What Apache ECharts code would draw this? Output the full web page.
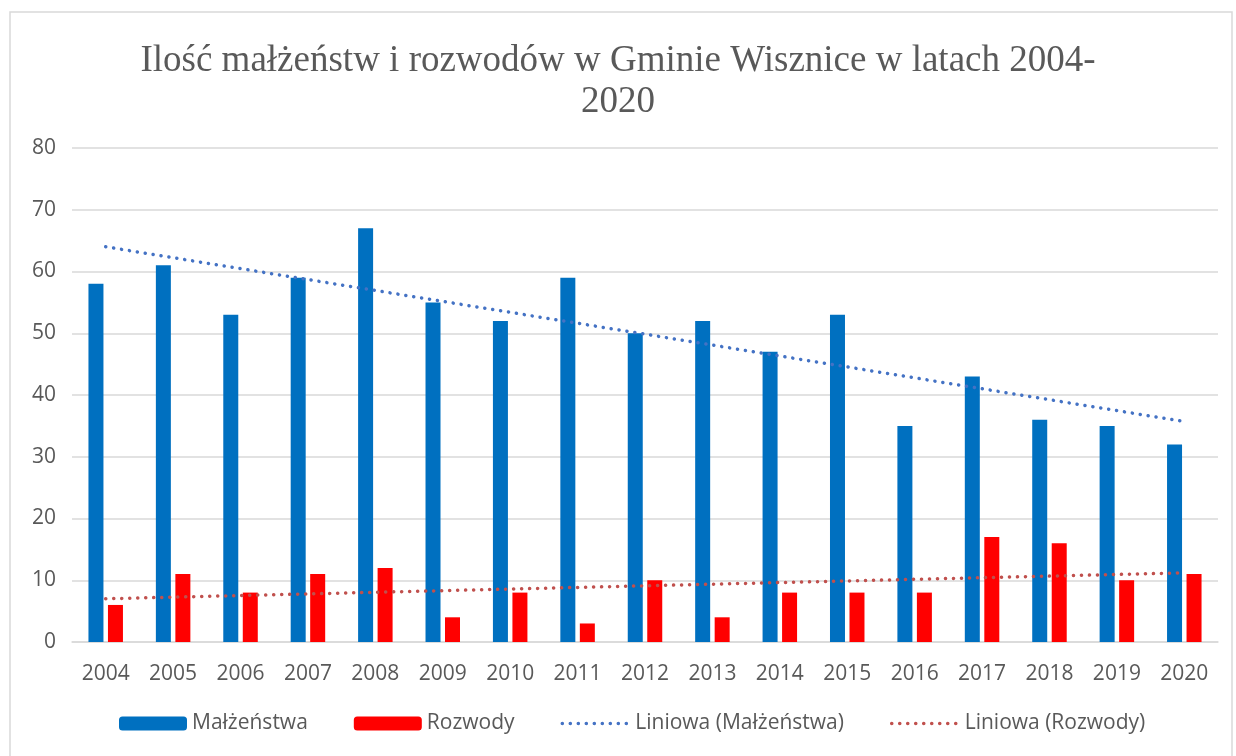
<!DOCTYPE html>
<html>
<head>
<meta charset="utf-8">
<script src="https://cdn.jsdelivr.net/npm/echarts@6/dist/echarts.min.js"></script>
<style>
html,body{margin:0;padding:0;background:#fff;}
#chart{width:1236px;height:756px;}
</style>
</head>
<body>
<div id="chart"></div>
<script>
// dane
var lata = ['2004','2005','2006','2007','2008','2009','2010','2011','2012','2013','2014','2015','2016','2017','2018','2019','2020'];
var malzenstwa = [58, 61, 53, 59, 67, 55, 52, 59, 50, 52, 47, 53, 35, 43, 36, 35, 32];
var rozwody = [6, 11, 8, 11, 12, 4, 8, 3, 10, 4, 8, 8, 8, 17, 16, 10, 11];
// linie trendu - poczatek i koniec
var trendMalzStart = 64.0, trendMalzEnd = 35.7;
var trendRozwStart = 7.0, trendRozwEnd = 11.2;
var osY = [0, 80, 10];

function trend(a, b) {
    var d = lata.map(function () { return null; });
    d[0] = a;
    d[d.length - 1] = b;
    return d;
}

var txt = '#595959';
var font = '"Open Sans", "Noto Sans", sans-serif';
var kropki = [0.1, 7.9];

var chart = echarts.init(document.getElementById('chart'));
var option = {
    backgroundColor: '#fff',
    animation: false,
    textStyle: { fontFamily: font },
    title: {
        text: 'Ilość małżeństw i rozwodów w Gminie Wisznice w latach 2004-\n2020',
        left: 'center',
        top: 36,
        textStyle: {
            fontFamily: '"Liberation Serif", "DejaVu Serif", serif',
            fontWeight: 'normal',
            fontSize: 37,
            lineHeight: 41,
            color: txt,
            align: 'center'
        }
    },
    graphic: [{
        type: 'rect',
        shape: { x: 10, y: 12, width: 1222, height: 760 },
        style: { fill: 'none', stroke: '#d9d9d9', lineWidth: 1.5 },
        silent: true,
        z: -10
    }],
    grid: { left: 72, right: 18, top: 148, bottom: 114 },
    legend: {
        bottom: 17,
        left: 114,
        itemWidth: 68,
        itemHeight: 14,
        itemGap: 46,
        textStyle: { color: txt, fontSize: 21, fontFamily: font },
        data: [
            'Małżeństwa',
            'Rozwody',
            {
                name: 'Liniowa (Małżeństwa)',
                itemStyle: { opacity: 0 },
                lineStyle: { width: 3.5, type: kropki, cap: 'round', color: '#4472C4' }
            },
            {
                name: 'Liniowa (Rozwody)',
                itemStyle: { opacity: 0 },
                lineStyle: { width: 3.5, type: kropki, cap: 'round', color: '#C0504D' }
            }
        ]
    },
    xAxis: {
        type: 'category',
        data: lata,
        axisTick: { show: false },
        axisLine: { lineStyle: { color: '#d9d9d9', width: 1.5 } },
        axisLabel: { color: txt, fontSize: 21, margin: 22 }
    },
    yAxis: {
        type: 'value',
        min: osY[0],
        max: osY[1],
        interval: osY[2],
        axisLine: { show: false },
        axisTick: { show: false },
        splitLine: { lineStyle: { color: '#d9d9d9', width: 1.5 } },
        axisLabel: { color: txt, fontSize: 21, margin: 16 }
    },
    series: [{
        name: 'Małżeństwa',
        type: 'bar',
        data: malzenstwa,
        barWidth: 15,
        barGap: '30%',
        itemStyle: { color: '#0070C0' }
    }, {
        name: 'Rozwody',
        type: 'bar',
        data: rozwody,
        barWidth: 15,
        itemStyle: { color: '#FF0000' }
    }, {
        name: 'Liniowa (Małżeństwa)',
        type: 'line',
        data: trend(trendMalzStart, trendMalzEnd),
        connectNulls: true,
        symbol: 'none',
        itemStyle: { color: '#4472C4' },
        lineStyle: { color: '#4472C4', width: 3.5, type: kropki, cap: 'round' },
        z: 5
    }, {
        name: 'Liniowa (Rozwody)',
        type: 'line',
        data: trend(trendRozwStart, trendRozwEnd),
        connectNulls: true,
        symbol: 'none',
        itemStyle: { color: '#C0504D' },
        lineStyle: { color: '#C0504D', width: 3.5, type: kropki, cap: 'round' },
        z: 5
    }]
};
chart.setOption(option);
</script>
</body>
</html>
